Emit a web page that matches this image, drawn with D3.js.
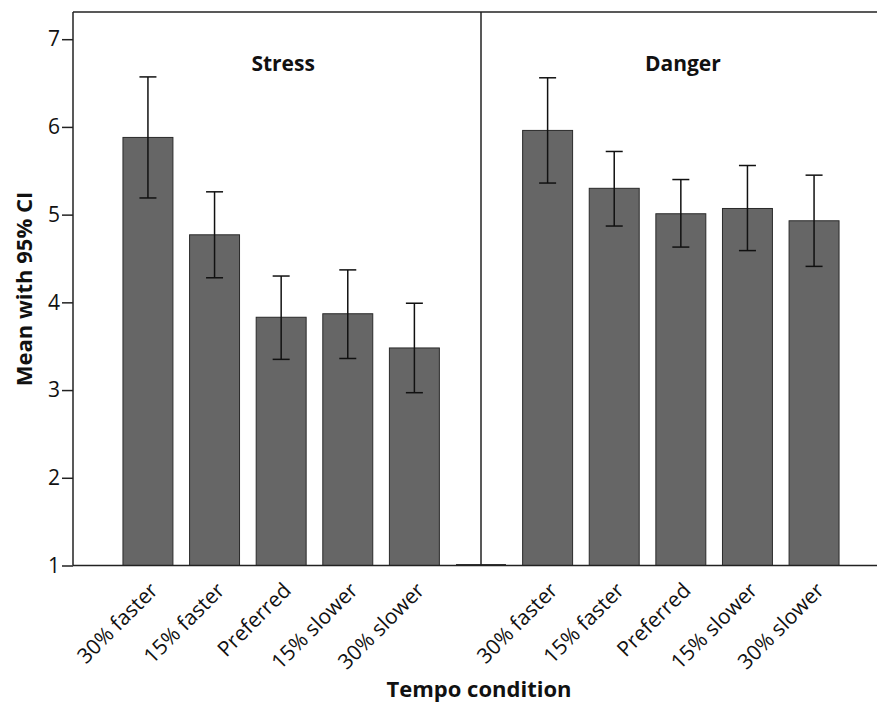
<!DOCTYPE html>
<html>
<head>
<meta charset="utf-8">
<script src="https://cdn.jsdelivr.net/npm/d3@7"></script>
<style>
  html, body { margin: 0; padding: 0; background: #fff; }
  svg { display: block; }
  text { font-family: "Open Sans", "DejaVu Sans", sans-serif; fill: #111; }
</style>
</head>
<body>
<svg id="chart" width="877" height="702"></svg>
<script>
// ---- data ----
const panels = ["Stress", "Danger"];
const conditions = ["30% faster", "15% faster", "Preferred", "15% slower", "30% slower"];
const stressMean  = [5.88, 4.77, 3.83, 3.87, 3.48];
const stressLow   = [5.19, 4.28, 3.35, 3.36, 2.97];
const stressHigh  = [6.57, 5.26, 4.30, 4.37, 3.99];
const dangerMean  = [5.96, 5.30, 5.01, 5.07, 4.93];
const dangerLow   = [5.36, 4.87, 4.63, 4.59, 4.41];
const dangerHigh  = [6.56, 5.72, 5.40, 5.56, 5.45];
const yTicks = [1, 2, 3, 4, 5, 6, 7];
const yTitle = "Mean with 95% CI";
const xTitle = "Tempo condition";

// ---- build rows ----
const rows = [];
conditions.forEach((c, i) => rows.push({key: "S" + i, panel: 0, label: c, mean: stressMean[i], lo: stressLow[i], hi: stressHigh[i]}));
const gapKey = "gap";
conditions.forEach((c, i) => rows.push({key: "D" + i, panel: 1, label: c, mean: dangerMean[i], lo: dangerLow[i], hi: dangerHigh[i]}));
const domainKeys = rows.slice(0, 5).map(d => d.key).concat([gapKey]).concat(rows.slice(5).map(d => d.key));

const svg = d3.select("#chart");
const mLeft = 73, mTop = 12, mBottom = 565.5, mRight = 889;

const x = d3.scaleBand().domain(domainKeys).range([mLeft, mRight]).paddingInner(0.25).paddingOuter(0.75);
const y = d3.scaleLinear().domain([1, 7.31]).range([mBottom, mTop]);

const lineColor = "#222";

// bars
svg.append("g").selectAll("rect").data(rows).join("rect")
  .attr("x", d => x(d.key))
  .attr("width", x.bandwidth())
  .attr("y", d => y(d.mean))
  .attr("height", d => y(1) - y(d.mean))
  .attr("fill", "#666666")
  .attr("stroke", "#2a2a2a")
  .attr("stroke-width", 1);

// empty gap bar (zero height)
svg.append("line")
  .attr("x1", x(gapKey)).attr("x2", x(gapKey) + x.bandwidth())
  .attr("y1", y(1) - 0.5).attr("y2", y(1) - 0.5)
  .attr("stroke", "#333").attr("stroke-width", 2);

// error bars
const eb = svg.append("g").attr("stroke", "#111").attr("stroke-width", 1.5).attr("fill", "none");
const cap = 8.5;
rows.forEach(d => {
  const cx = x(d.key) + x.bandwidth() / 2;
  eb.append("line").attr("x1", cx).attr("x2", cx).attr("y1", y(d.lo)).attr("y2", y(d.hi));
  eb.append("line").attr("x1", cx - cap).attr("x2", cx + cap).attr("y1", y(d.hi)).attr("y2", y(d.hi));
  eb.append("line").attr("x1", cx - cap).attr("x2", cx + cap).attr("y1", y(d.lo)).attr("y2", y(d.lo));
});

// frame lines
const frame = svg.append("g").attr("stroke", lineColor).attr("stroke-width", 1.5);
frame.append("line").attr("x1", mLeft).attr("x2", mRight).attr("y1", mTop).attr("y2", mTop);
const sepX = x(gapKey) + x.bandwidth() / 2;
frame.append("line").attr("x1", sepX).attr("x2", sepX).attr("y1", mTop).attr("y2", mBottom);

// y axis
const yAxis = svg.append("g").attr("transform", `translate(${mLeft},0)`)
  .call(d3.axisLeft(y).tickValues(yTicks).tickFormat(d3.format("d")).tickSize(11).tickPadding(2))
  .call(g => g.select(".domain").attr("d", `M0,${mTop}V${mBottom}`).attr("stroke", lineColor).attr("stroke-width", 1.5));
yAxis.selectAll(".tick line").attr("stroke", lineColor).attr("stroke-width", 1.5);
yAxis.selectAll(".tick text").attr("font-size", 21).attr("font-family", '"Open Sans", sans-serif').attr("fill", "#111");

// x axis
const xAxis = svg.append("g").attr("transform", `translate(0,${mBottom})`)
  .call(d3.axisBottom(x).tickSize(0).tickFormat(k => { const r = rows.find(d => d.key === k); return r ? r.label : ""; }))
  .call(g => g.select(".domain").attr("d", `M${mLeft},0H${mRight}`).attr("stroke", lineColor).attr("stroke-width", 1.5));
xAxis.selectAll(".tick text")
  .attr("font-size", 21)
  .attr("font-family", '"Open Sans", sans-serif')
  .attr("fill", "#111")
  .attr("text-anchor", "end")
  .attr("x", 0).attr("y", 0).attr("dy", "0.35em")
  .attr("transform", "translate(6,21) rotate(-45)");

// panel titles
panels.forEach((p, i) => {
  const keys = rows.filter(d => d.panel === i).map(d => d.key);
  const c = (x(keys[0]) + x(keys[keys.length - 1]) + x.bandwidth()) / 2;
  svg.append("text").attr("x", c + 2).attr("y", 71).attr("text-anchor", "middle")
    .attr("font-size", 21).attr("font-weight", "bold").text(p);
});

// axis titles
svg.append("text").attr("transform", `translate(32,${289}) rotate(-90)`)
  .attr("text-anchor", "middle").attr("font-size", 22).attr("font-weight", "bold").text(yTitle);
svg.append("text").attr("x", 479).attr("y", 697).attr("text-anchor", "middle")
  .attr("font-size", 22).attr("font-weight", "bold").text(xTitle);
</script>
</body>
</html>
